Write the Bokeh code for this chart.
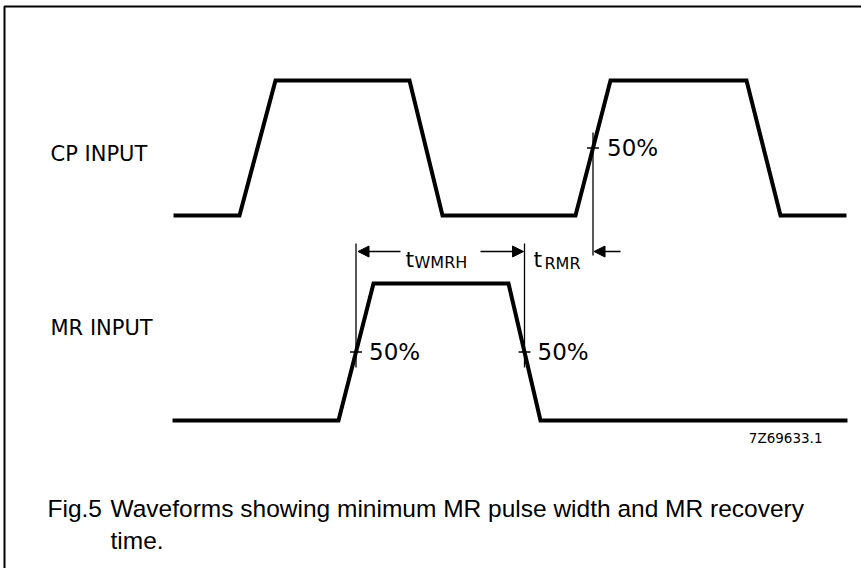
from bokeh.plotting import figure
from bokeh.models import Range1d, Arrow, NormalHead
from bokeh.embed import file_html
from bokeh.resources import INLINE
from bokeh.core.properties import value

# ---------------- data ----------------
CP_TIME = [173, 239, 275, 409, 442, 575, 610, 746, 780, 846]
CP_LEVEL = [0, 0, 1, 1, 0, 0, 1, 1, 0, 0]
MR_TIME = [172, 338, 373, 508, 540, 847]
MR_LEVEL = [0, 0, 1, 1, 0, 0]
SIGNAL_NAMES = ["CP INPUT", "MR INPUT"]
THRESHOLD = 0.5
THRESHOLD_LABEL = "50%"
CP_EDGE = 5          # second rising edge of CP
MR_EDGES = [1, 3]    # rising / falling edges of MR
DRAWING_NO = "7Z69633.1"
CAPTION_NO = "Fig.5"
CAPTION_1 = "Waveforms showing minimum MR pulse width and MR recovery"
CAPTION_2 = "time."

# ---------------- layout ----------------
W, H = 861, 568
CP_BASE, CP_AMP = 353, 135
MR_BASE, MR_AMP = 148, 137
ARROW_Y = 317

def crossing(times, levels, i, thr=THRESHOLD):
    t0, t1 = times[i], times[i + 1]
    l0, l1 = levels[i], levels[i + 1]
    return t0 + (thr - l0) / (l1 - l0) * (t1 - t0)

cp_y = [CP_BASE + l * CP_AMP for l in CP_LEVEL]
mr_y = [MR_BASE + l * MR_AMP for l in MR_LEVEL]
cp_x50 = crossing(CP_TIME, CP_LEVEL, CP_EDGE)
mr_x50 = [crossing(MR_TIME, MR_LEVEL, i) for i in MR_EDGES]
cp_y50 = CP_BASE + THRESHOLD * CP_AMP
mr_y50 = MR_BASE + THRESHOLD * MR_AMP

p = figure(width=W, height=H, output_backend="svg", toolbar_location=None,
           x_range=Range1d(0, W), y_range=Range1d(0, H),
           min_border=0, outline_line_color=None)
p.axis.visible = False
p.grid.visible = False
p.background_fill_color = "white"
p.border_fill_color = "white"

# frame (top and left)
p.line([4, 4, W + 5], [-5, 562, 562], line_color="black", line_width=2)

# waveforms
p.line(CP_TIME, cp_y, line_color="black", line_width=4, line_join="miter")
p.line(MR_TIME, mr_y, line_color="black", line_width=4, line_join="miter")

# 50% markers
p.segment(x0=[cp_x50], y0=[436], x1=[cp_x50], y1=[313], line_color="black", line_width=1.3)
p.segment(x0=mr_x50, y0=[325, 325], x1=mr_x50, y1=[201, 201], line_color="black", line_width=1.3)
ticks_x = [cp_x50] + mr_x50
ticks_y = [cp_y50, mr_y50, mr_y50]
p.segment(x0=[x - 6 for x in ticks_x], y0=ticks_y, x1=[x + 6 for x in ticks_x], y1=ticks_y,
          line_color="black", line_width=1.5)

fnt = value("DejaVu Sans")
p.text(x=[cp_x50 + 14, mr_x50[0] + 13, mr_x50[1] + 13], y=ticks_y,
       text=[THRESHOLD_LABEL] * 3, text_font=fnt, text_font_size="23px",
       text_baseline="middle", text_align="left", text_color="black")

# signal names
p.text(x=[50, 50], y=[415, 241], text=SIGNAL_NAMES, text_font=fnt,
       text_font_size="21px", text_baseline="middle", text_color="black")

# arrows
def arr(x0, x1):
    p.add_layout(Arrow(end=NormalHead(size=11, fill_color="black", line_color="black", line_width=1),
                       x_start=x0, y_start=ARROW_Y, x_end=x1, y_end=ARROW_Y,
                       line_color="black", line_width=1.5))

arr(400, mr_x50[0] + 2)
arr(480, mr_x50[1] - 1)
arr(620, cp_x50 + 1)

# timing symbols
p.text(x=[405, 533], y=[309, 309], text=["t", "t"], text_font=fnt, text_font_size="22px",
       text_baseline="alphabetic", text_color="black")
p.text(x=[414, 544], y=[306, 305], text=["WMRH", "RMR"], text_font=fnt, text_font_size="16px",
       text_baseline="alphabetic", text_color="black")

# drawing number
p.text(x=[822], y=[131], text=[DRAWING_NO], text_font=fnt,
       text_font_size="13.5px", text_baseline="middle", text_align="right", text_color="black")

# caption
cap = value("Liberation Sans")
p.text(x=[47, 110, 110], y=[60, 60, 28], text=[CAPTION_NO, CAPTION_1, CAPTION_2],
       text_font=cap, text_font_size="24.5px", text_baseline="middle", text_color="black")

open("out.html", "w").write(file_html(p, INLINE))
